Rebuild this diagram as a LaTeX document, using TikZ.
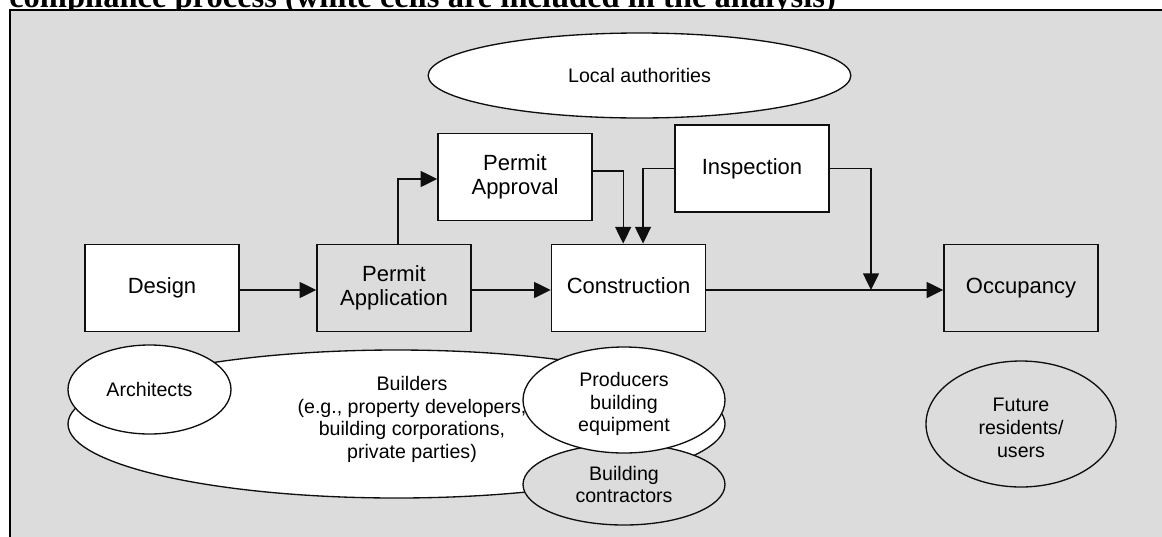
\documentclass[tikz,border=0pt]{standalone}
\usepackage{fontspec}
\setmainfont{Liberation Sans}
\newfontfamily\captionserif{Liberation Serif}
\usetikzlibrary{arrows.meta,shapes.geometric,calc}
\definecolor{panelgray}{RGB}{220,220,220}
\definecolor{ink}{RGB}{15,15,15}

\begin{document}
\begin{tikzpicture}[x=0.75pt,y=-0.75pt,
  stepbox/.style={draw=ink, line width=1.1pt, rectangle, minimum width=115.5pt,
    minimum height=65.5pt, inner sep=0pt, align=center,
    font=\fontsize{16.5}{18}\selectfont},
  included/.style={fill=white},
  excluded/.style={fill=panelgray},
  actor/.style={draw=ink, line width=1pt, ellipse, inner sep=0pt, align=center,
    font=\fontsize{14.7}{17}\selectfont},
  actortext/.style={inner sep=0pt, align=center, font=\fontsize{14.7}{17}\selectfont},
  flow/.style={draw=ink, line width=1pt, -{Triangle[length=12.5pt,width=12pt]}},
]
\useasboundingbox (0,0) rectangle (1162,536);
\clip (0,0) rectangle (1162,536);

% caption line above the panel (partly hidden by the panel)
\node[anchor=base west, inner sep=0pt,
  font=\captionserif\bfseries\fontsize{24.4}{28}\selectfont] (caption) at (9,7)
  {compliance process (white cells are included in the analysis)};

% grey panel
\draw[fill=panelgray, line width=1.5pt] (10,10) rectangle (1185,560);

% regulator
\node[actor, included, minimum width=317pt, minimum height=63.75pt] (local)
  at (639.5,75.5) {Local authorities};

% process steps
\node[stepbox, included] (design) at (162,288) {\raisebox{3.4pt}{Design}};
\node[stepbox, excluded] (permitapp) at (394,288) {Permit\\Application};
\node[stepbox, included] (construction) at (628.5,288) {\raisebox{3.4pt}{Construction}};
\node[stepbox, excluded] (occupancy) at (1021,288) {\raisebox{3.4pt}{Occupancy}};
\node[stepbox, included] (approval) at (515,177) {Permit\\Approval};
\node[stepbox, included] (inspection) at (752,168.5) {\raisebox{3.4pt}{Inspection}};

% flows between steps
\coordinate (merge) at (871,290);
\draw[flow] ([yshift=-1.5pt]design.east) -- ([yshift=-1.5pt]permitapp.west);
\draw[flow] ([yshift=-1.5pt]permitapp.east) -- ([yshift=-1.5pt]construction.west);
\draw[flow] ([yshift=-1.5pt]construction.east) -- ([yshift=-1.5pt]occupancy.west);
\draw[flow] ([xshift=3pt]permitapp.north) |- ([yshift=-1.5pt]approval.west);
\draw[flow] ([yshift=4.5pt]approval.east) -| ([xshift=-4pt]construction.north);
\draw[flow] (inspection.west) -| ([xshift=10.9pt]construction.north);
\draw[flow] (inspection.east) -| (merge);

% actors
\node[actor, included, minimum width=492.75pt, minimum height=111pt] (builders)
  at (396.5,424) {};
\node[actortext] (builderstext) at (412,419.5)
  {Builders\\(e.g., property developers,\\building corporations,\\private parties)};
\node[actor, excluded, minimum width=151.5pt, minimum height=60.75pt] (contractors)
  at (624,484.5) {Building\\contractors};
\node[actor, included, minimum width=151.5pt, minimum height=79.5pt] (producers)
  at (624,400) {};
\node[actortext] (producerstext) at (624,404) {Producers\\building\\equipment};
\node[actor, included, minimum width=122.25pt, minimum height=66.75pt] (architects)
  at (149.5,389.5) {Architects};
\node[actor, excluded, minimum width=142.5pt, minimum height=94.5pt] (residents)
  at (1021,424) {};
\node[actortext] (residentstext) at (1021,428) {Future\\residents/\\users};
\end{tikzpicture}
\end{document}
